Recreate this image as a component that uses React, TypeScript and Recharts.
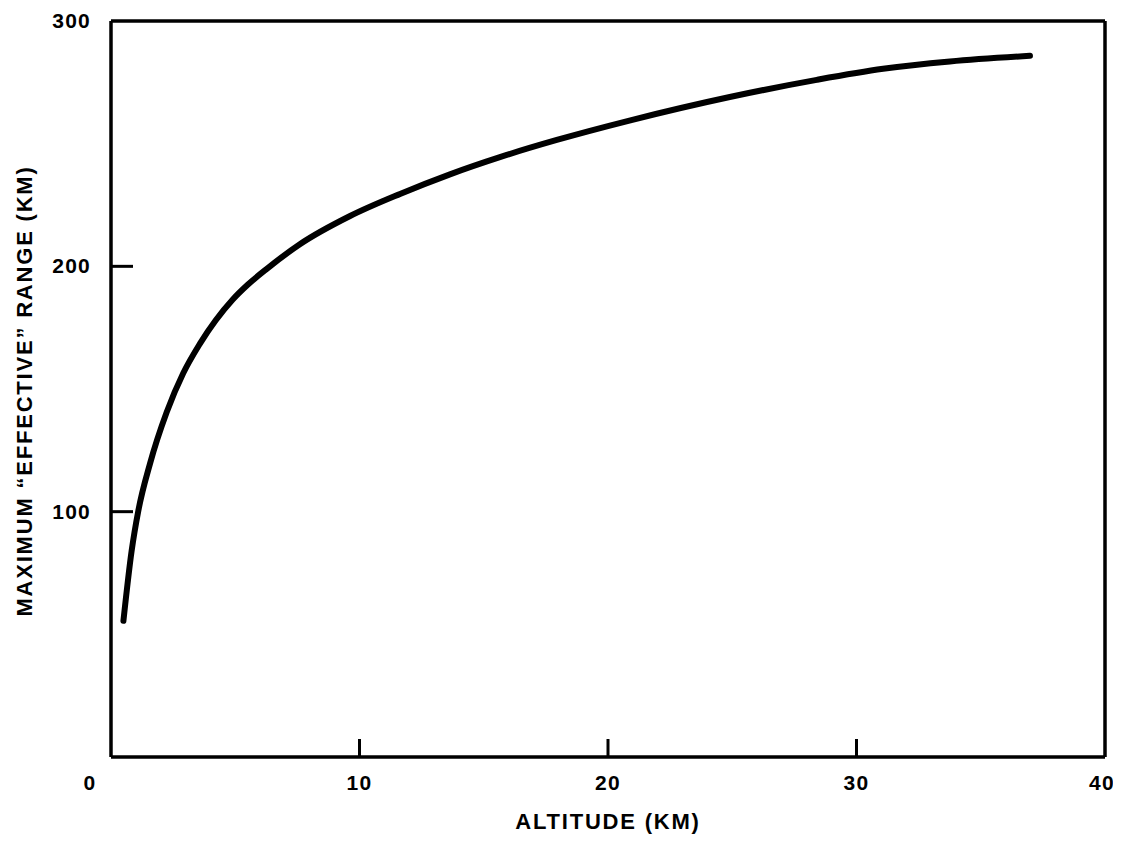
import React from "react";
import { LineChart, Line, XAxis, YAxis, Label, ReferenceLine } from "recharts";

const altitudeKm = [0.5, 0.83, 1.1, 1.57, 2.24, 2.91, 3.58, 4.9, 5.5, 6.27, 7.6, 9.62, 11.63, 13.64, 15.65, 17.94, 20.9, 24.9, 28.4, 31.07, 33.76, 36.98];
const rangeKm = [55.5, 84, 100.4, 119.6, 140.5, 156.5, 168.5, 186.5, 192.5, 199, 209, 220.5, 229.5, 237.5, 244.5, 251.5, 259.5, 269, 276, 280.5, 283.5, 285.8];
const xTicks = [0, 10, 20, 30, 40];
const yTicks = [100, 200, 300];
const xMax = 40;
const yMax = 300;
const xTitle = "ALTITUDE (KM)";
const yTitle = "MAXIMUM \u201CEFFECTIVE\u201D RANGE (KM)";

const data = altitudeKm.map((a, i) => ({ altitude: a, range: rangeKm[i] }));

const FONT = "'Liberation Sans', Arial, Helvetica, sans-serif";

const XTick = (props: any) => {
  const { x, y, payload } = props;
  const v = payload.value;
  const isEdge = v === 0 || v === xMax;
  const dx = v === 0 ? -21 : v === xMax ? -3 : 0;
  return (
    <g>
      {!isEdge && <line x1={x} y1={y} x2={x} y2={y - 18} stroke="#000" strokeWidth={3} />}
      <text x={x + dx} y={y + 33} textAnchor="middle" fontFamily={FONT} fontWeight="bold" fontSize={21} letterSpacing={1.2} fill="#000">
        {v}
      </text>
    </g>
  );
};

const YTick = (props: any) => {
  const { x, y, payload } = props;
  const v = payload.value;
  const isEdge = v === yMax;
  return (
    <g>
      {!isEdge && <line x1={x} y1={y} x2={x + 22} y2={y} stroke="#000" strokeWidth={3} />}
      <text x={x - 20} y={y + 7} textAnchor="end" fontFamily={FONT} fontWeight="bold" fontSize={21} letterSpacing={1.2} fill="#000">
        {v}
      </text>
    </g>
  );
};

const XTitle = (props: any) => {
  const vb = props.viewBox || {};
  return (
    <text x={vb.x + vb.width / 2} y={vb.y + vb.height - 14} textAnchor="middle" fontFamily={FONT} fontWeight="bold" fontSize={22} letterSpacing={1.8} fill="#000">
      {xTitle}
    </text>
  );
};

const YTitle = (props: any) => {
  const vb = props.viewBox || {};
  const cx = vb.x + 16;
  const cy = vb.y + vb.height / 2 + 2;
  return (
    <text x={cx} y={cy} transform={`rotate(-90 ${cx} ${cy})`} dominantBaseline="central" textAnchor="middle" fontFamily={FONT} fontWeight="bold" fontSize={22} letterSpacing={1.8} fill="#000">
      {yTitle}
    </text>
  );
};

export default function App() {
  return (
    <div style={{ width: 1113, height: 835, background: "#fff" }}>
      <LineChart width={1113} height={835} data={data} margin={{ top: 13, right: 16, left: 0, bottom: 0 }}>
        <XAxis
          dataKey="altitude"
          type="number"
          domain={[0, xMax]}
          ticks={xTicks}
          interval={0}
          height={86}
          tickSize={0}
          tickMargin={0}
          tickLine={false}
          axisLine={{ stroke: "#000", strokeWidth: 3.5 }}
          tick={<XTick />}
        >
          <Label content={<XTitle />} />
        </XAxis>
        <YAxis
          dataKey="range"
          type="number"
          domain={[0, yMax]}
          ticks={yTicks}
          interval={0}
          width={103}
          tickSize={0}
          tickMargin={0}
          tickLine={false}
          axisLine={{ stroke: "#000", strokeWidth: 3.5 }}
          tick={<YTick />}
        >
          <Label content={<YTitle />} />
        </YAxis>
        <ReferenceLine y={yMax} stroke="#000" strokeWidth={3.5} ifOverflow="visible" />
        <ReferenceLine x={xMax} stroke="#000" strokeWidth={3.5} ifOverflow="visible" />
        <Line
          type="monotone"
          dataKey="range"
          stroke="#000"
          strokeWidth={6}
          strokeLinecap="round"
          dot={false}
          activeDot={false}
          isAnimationActive={false}
        />
      </LineChart>
    </div>
  );
}
